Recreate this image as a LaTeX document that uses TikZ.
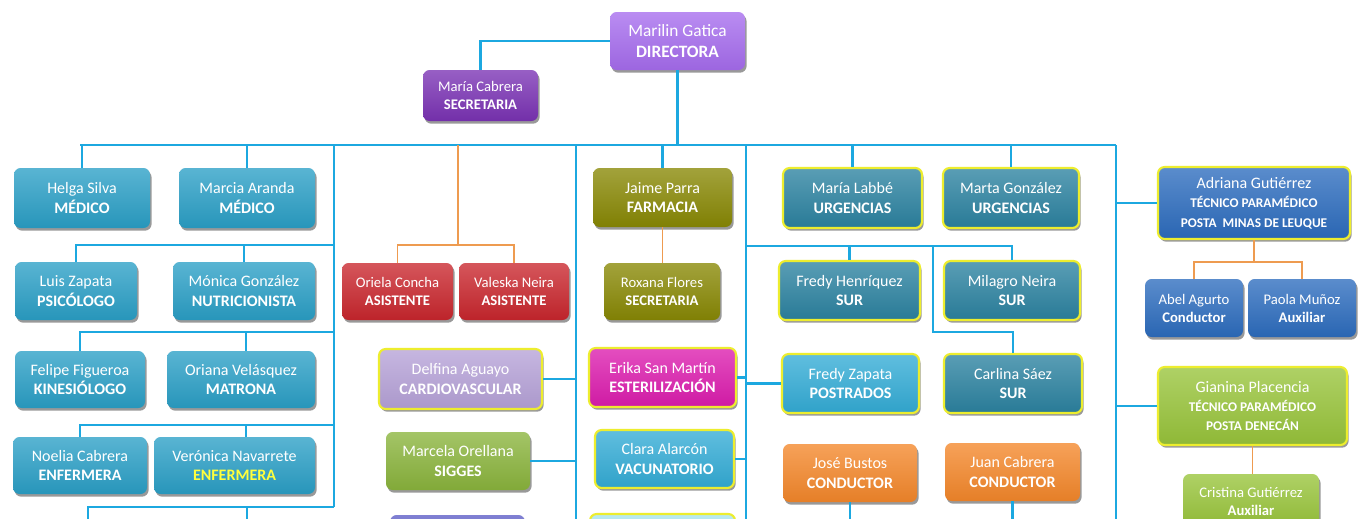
\documentclass[tikz,border=0pt]{standalone}
\usepackage{fontspec}
\setmainfont{Carlito}
\usetikzlibrary{shadows,calc}
\definecolor{linec}{HTML}{1CA8E0}
\definecolor{orangeline}{HTML}{EE9B50}
\definecolor{dirc}{HTML}{A66CEE}
\definecolor{secc}{HTML}{7A32B4}
\definecolor{tealc}{HTML}{2A9FC6}
\definecolor{redc}{HTML}{C9262D}
\definecolor{olivec}{HTML}{888804}
\definecolor{magc}{HTML}{DC1CAE}
\definecolor{lavc}{HTML}{B6A2D8}
\definecolor{greenc}{HTML}{8AB43C}
\definecolor{bluetwo}{HTML}{33ACD6}
\definecolor{darktealc}{HTML}{2B82A0}
\definecolor{orangec}{HTML}{F4872A}
\definecolor{adric}{HTML}{2C6CBE}
\definecolor{giac}{HTML}{98C43A}
\definecolor{bluevioc}{HTML}{5C5CC6}
\definecolor{lightcyanc}{HTML}{A6E4EE}
\definecolor{yellowb}{HTML}{EDED2E}
\definecolor{yellowtxt}{HTML}{FFFF3C}
\newcommand{\orgnode}[7]{\node[ob,#6,minimum width={(#4-#2)*0.75pt},minimum height={(#5-#3)*0.75pt}] (#1) at ({(#2+#4)/2},{(#3+#5)/2}) {#7};}
\newcommand{\tpsz}{\fontsize{10}{13}\selectfont}
\tikzset{
  ob/.style={rounded corners=5pt, inner sep=0pt, align=center, text=white,
    font=\fontsize{12}{14.5}\selectfont,
    drop shadow={shadow xshift=1.2pt, shadow yshift=-2pt, opacity=0.4, fill=black}},
  fc/.style={top color=#1!78!white, bottom color=#1!94!black},
  yb/.style={draw=yellowb, line width=1.6pt},
  sm/.style={font=\fontsize{11}{13.5}\selectfont},
  big/.style={font=\fontsize{13}{16}\selectfont},
  conn/.style={draw=linec, line width=1.6pt},
  oconn/.style={draw=orangeline, line width=1.4pt},
}
\begin{document}
\begin{tikzpicture}[x=0.75pt,y=-0.75pt]
\useasboundingbox (0,0) rectangle (1359,518);
\clip (0,0) rectangle (1359,518);
\fill[white] (0,0) rectangle (1359,518);

% top
\orgnode{dir}{610}{12}{745}{70}{fc=dirc,big}{Marilin Gatica\\\textbf{DIRECTORA}}
\orgnode{sec}{423}{70}{538}{121}{fc=secc,sm}{María Cabrera\\\textbf{SECRETARIA}}

% left column
\orgnode{helga}{14}{168}{150}{228}{fc=tealc}{Helga Silva\\\textbf{MÉDICO}}
\orgnode{marcia}{179}{168}{315}{228}{fc=tealc}{Marcia Aranda\\\textbf{MÉDICO}}
\orgnode{luis}{15}{262}{137}{320}{fc=tealc}{Luis Zapata\\\textbf{PSICÓLOGO}}
\orgnode{monica}{173}{262}{315}{320}{fc=tealc}{Mónica González\\\textbf{NUTRICIONISTA}}
\orgnode{felipe}{15}{351}{145}{408}{fc=tealc}{Felipe Figueroa\\\textbf{KINESIÓLOGO}}
\orgnode{oriana}{167}{351}{315}{408}{fc=tealc}{Oriana Velásquez\\\textbf{MATRONA}}
\orgnode{noelia}{13}{437}{147}{494}{fc=tealc}{Noelia Cabrera\\\textbf{ENFERMERA}}
\orgnode{veronica}{154}{437}{315}{494}{fc=tealc}{Verónica Navarrete\\\textbf{\textcolor{yellowtxt}{ENFERMERA}}}

% column B
\orgnode{oriela}{342}{263}{453}{320}{fc=redc,sm}{Oriela Concha\\\textbf{ASISTENTE}}
\orgnode{valeska}{459}{263}{569}{320}{fc=redc,sm}{Valeska Neira\\\textbf{ASISTENTE}}
\orgnode{delfina}{379}{349}{542}{409}{fc=lavc,yb}{Delfina Aguayo\\\textbf{CARDIOVASCULAR}}
\orgnode{marcela}{386}{432}{530}{490}{fc=greenc}{Marcela Orellana\\\textbf{SIGGES}}
\orgnode{pone}{390}{515}{525}{570}{fc=bluevioc}{}

% column C
\orgnode{jaime}{593}{168}{732}{227}{fc=olivec}{Jaime Parra\\\textbf{FARMACIA}}
\orgnode{roxana}{604}{263}{720}{320}{fc=olivec,sm}{Roxana Flores\\\textbf{SECRETARIA}}
\orgnode{erika}{589}{348}{736}{407}{fc=magc,yb}{Erika San Martín\\\textbf{ESTERILIZACIÓN}}
\orgnode{clara}{595}{430}{734}{488}{fc=bluetwo,yb}{Clara Alarcón\\\textbf{VACUNATORIO}}
\orgnode{ptwo}{590}{514}{735}{570}{fc=lightcyanc,yb}{}

% column D
\orgnode{labbe}{783}{168}{922}{228}{fc=darktealc,yb}{María Labbé\\\textbf{URGENCIAS}}
\orgnode{marta}{943}{168}{1079}{228}{fc=darktealc,yb}{Marta González\\\textbf{URGENCIAS}}
\orgnode{fhenriquez}{779}{261}{920}{320}{fc=darktealc,yb}{Fredy Henríquez\\\textbf{SUR}}
\orgnode{milagro}{944}{261}{1080}{320}{fc=darktealc,yb}{Milagro Neira\\\textbf{SUR}}
\orgnode{fzapata}{782}{354}{919}{413}{fc=bluetwo,yb}{Fredy Zapata\\\textbf{POSTRADOS}}
\orgnode{carlina}{944}{354}{1082}{413}{fc=darktealc,yb}{Carlina Sáez\\\textbf{SUR}}
\orgnode{jose}{783}{444}{917}{502}{fc=orangec}{José Bustos\\\textbf{CONDUCTOR}}
\orgnode{juan}{945}{443}{1080}{501}{fc=orangec}{Juan Cabrera\\\textbf{CONDUCTOR}}

% column E
\orgnode{adriana}{1158}{167}{1350}{239}{fc=adric,yb}{Adriana Gutiérrez\\{\tpsz\textbf{TÉCNICO PARAMÉDICO}}\\{\tpsz\textbf{POSTA~~MINAS DE LEUQUE}}}
\orgnode{abel}{1145}{279}{1243}{337}{fc=adric,sm}{Abel Agurto\\\textbf{Conductor}}
\orgnode{paola}{1248}{279}{1356}{337}{fc=adric,sm}{Paola Muñoz\\\textbf{Auxiliar}}
\orgnode{gianina}{1158}{367}{1347}{445}{fc=giac,yb}{Gianina Placencia\\{\tpsz\textbf{TÉCNICO PARAMÉDICO}}\\{\tpsz\textbf{POSTA DENECÁN}}}
\orgnode{cristina}{1183}{474}{1319}{528}{fc=giac,sm}{Cristina Gutiérrez\\\textbf{Auxiliar}}

% connectors
\coordinate (bL) at (80,145);
\coordinate (bR) at (1116,145);
\draw[conn] (dir.west) -| (sec.north);
\draw[conn] (dir.south) -- (dir.south |- bL);
\draw[conn] (bL) -- (bR);
\draw[conn] (helga.north) -- (helga.north |- bL);
\draw[conn] (marcia.north) -- (marcia.north |- bL);
\coordinate (vA) at (334,145);
\coordinate (vAe) at (334,507);
\draw[conn] (vA) -- (vAe);
\coordinate (rtwo) at (334,245);
\draw[conn] (luis.north) |- (rtwo);
\draw[conn] (monica.north) -- (monica.north |- rtwo);
\coordinate (rthree) at (334,332);
\coordinate (rthreeb) at (246,332);
\draw[conn] (felipe.north) |- (rthree);
\draw[conn] (rthreeb) -- (rthreeb |- oriana.north);
\coordinate (rfour) at (334,425);
\coordinate (rfourb) at (246,425);
\draw[conn] (noelia.north) |- (rfour);
\draw[conn] (rfourb) -- (rfourb |- veronica.north);
\coordinate (lbone) at (88,530);
\coordinate (lbtwo) at (247,530);
\draw[conn] (lbone) |- (vAe);
\draw[conn] (lbtwo) -- (lbtwo |- vAe);

\coordinate (oB) at (458,145);
\coordinate (oBj) at (458,245);
\draw[oconn] (oB) -- (oBj);
\draw[oconn] (oriela.north) |- (oBj) -| (valeska.north);
\coordinate (vB) at (576,145);
\coordinate (vBe) at (576,530);
\draw[conn] (vB) -- (vBe);
\draw[conn] (delfina.east) -- (delfina.east -| vB);
\draw[conn] (marcela.east) -- (marcela.east -| vB);

\draw[conn] (jaime.north) -- (jaime.north |- bL);
\draw[oconn] (jaime.south) -- (jaime.south |- roxana.north);
\coordinate (vC) at (746,145);
\coordinate (vCe) at (746,530);
\draw[conn] (vC) -- (vCe);
\draw[conn] (erika.east) -- (erika.east -| vC);
\draw[conn] (clara.east) -- (clara.east -| vC);
\draw[conn] (fzapata.west) -- (fzapata.west -| vC);

\draw[conn] (labbe.north) -- (labbe.north |- bL);
\draw[conn] (marta.north) -- (marta.north |- bL);
\coordinate (rD) at (746,246);
\draw[conn] (rD) -| (milagro.north);
\draw[conn] (fhenriquez.north) -- (fhenriquez.north |- rD);
\coordinate (rDa) at (933,246);
\coordinate (rDb) at (933,332);
\draw[conn] (rDa) -- (rDb) -| (carlina.north);
\draw[conn] (jose.south) -- (jose.south |- vBe);
\draw[conn] (juan.south) -- (juan.south |- vBe);

\coordinate (vE) at (1116,530);
\draw[conn] (bR) -- (vE);
\draw[conn] (adriana.west) -- (adriana.west -| bR);
\draw[conn] (gianina.west) -- (gianina.west -| bR);
\coordinate (oE) at (1252,262);
\draw[oconn] (adriana.south) -- (adriana.south |- oE);
\draw[oconn] (abel.north) |- (oE) -| (paola.north);
\draw[oconn] (gianina.south) -- (gianina.south |- cristina.north);
\end{tikzpicture}
\end{document}
